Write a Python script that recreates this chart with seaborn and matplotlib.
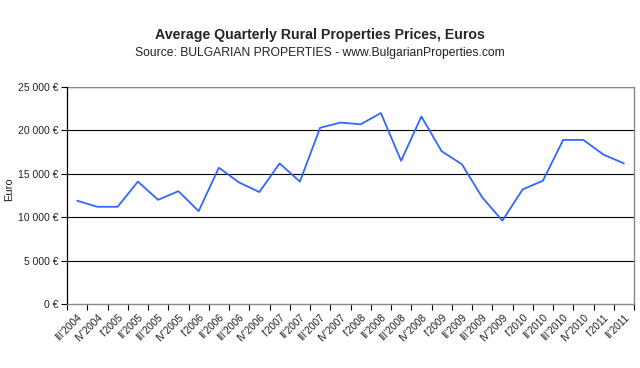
import matplotlib
matplotlib.use("Agg")
import matplotlib.pyplot as plt
import seaborn as sns
import pandas as pd
import numpy as np
from matplotlib.ticker import FixedLocator, FuncFormatter

quarters = ["III'2004", "IV'2004", "I'2005", "II'2005", "III'2005", "IV'2005",
            "I'2006", "II'2006", "III'2006", "IV'2006", "I'2007", "II'2007",
            "III'2007", "IV'2007", "I'2008", "II'2008", "III'2008", "IV'2008",
            "I'2009", "II'2009", "III'2009", "IV'2009", "I'2010", "II'2010",
            "III'2010", "IV'2010", "I'2011", "II'2011"]
prices = [11900, 11200, 11200, 14100, 12000, 13000,
          10700, 15700, 14000, 12900, 16200, 14100,
          20300, 20900, 20700, 22000, 16500, 21600,
          17600, 16100, 12300, 9600, 13200, 14200,
          18900, 18900, 17200, 16200]
y_ticks = [0, 5000, 10000, 15000, 20000, 25000]

title = "Average Quarterly Rural Properties Prices, Euros"
subtitle = "Source: BULGARIAN PROPERTIES - www.BulgarianProperties.com"

sns.set_theme(style="white")
plt.rcParams['font.family'] = ['Liberation Sans', 'DejaVu Sans']

df = pd.DataFrame({"idx": np.arange(len(quarters)), "Euro": prices})

fig = plt.figure(figsize=(6.4, 3.68), dpi=100)
ax = fig.add_axes([67/640, 1-304/368, (634-67)/640, (304-87)/368])

for yv in y_ticks[1:]:
    ax.axhline(yv, color="#000000", lw=0.8, zorder=1)

sns.lineplot(data=df, x="idx", y="Euro", ax=ax, color="#3366FF", lw=1.3, zorder=3)

ax.set_xlim(-0.5, len(quarters) - 0.5)
ax.set_ylim(0, 25000)
ax.set_yticks(y_ticks)
ax.yaxis.set_major_formatter(FuncFormatter(lambda v, p: (f"{int(v):,}".replace(",", " ") + " €")))
ax.tick_params(axis="y", labelsize=7.5, length=4, width=0.8, color="black", pad=2, left=True, labelcolor="#222222")

ax.xaxis.set_major_locator(FixedLocator(np.arange(len(quarters) + 1) - 0.5))
ax.xaxis.set_major_formatter(FuncFormatter(lambda v, p: ""))
ax.xaxis.set_minor_locator(FixedLocator(np.arange(len(quarters))))
ax.set_xticks(np.arange(len(quarters)), quarters, minor=True)
ax.tick_params(axis="x", which="major", length=4, width=0.8, color="black", bottom=True, direction="out")
ax.tick_params(axis="x", which="minor", length=0, labelsize=7.3, pad=6, labelcolor="#222222")
for lab in ax.get_xticklabels(minor=True):
    lab.set_rotation(45)
    lab.set_ha("right")
    lab.set_va("top")
    lab.set_rotation_mode("anchor")

ax.set_xlabel("")
ax.set_ylabel("Euro", fontsize=8, color="#222222")
ax.yaxis.set_label_coords(-0.093, 0.53)

ax.spines["left"].set_color("black")
ax.spines["left"].set_linewidth(0.9)
for s in ["bottom", "right"]:
    ax.spines[s].set_color("#888888")
    ax.spines[s].set_linewidth(1.0)
ax.spines["top"].set_visible(False)
ax.axhline(25000, color="#888888", lw=1.0, zorder=1)

fig.text(0.5, 1-35/368, title, ha="center", va="center", fontsize=10.2, fontweight="bold")
fig.text(0.5, 1-53/368, subtitle, ha="center", va="center", fontsize=8.7, color="#222222")

fig.savefig("out.png", dpi=100, facecolor="white")
